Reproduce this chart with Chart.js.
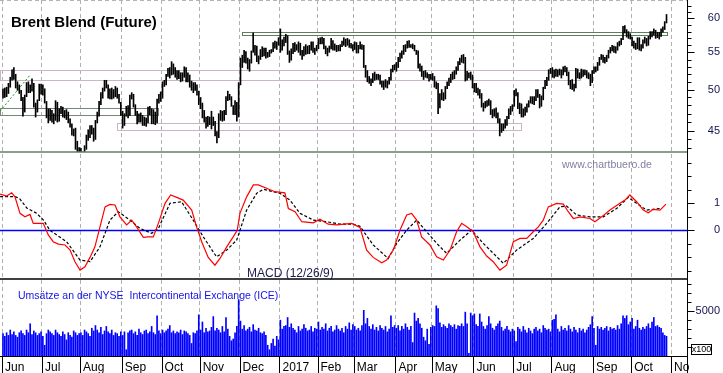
<!DOCTYPE html>
<html>
<head>
<meta charset="utf-8">
<title>Brent Blend (Future)</title>
<script src="https://cdn.jsdelivr.net/npm/chart.js@4.4.1/dist/chart.umd.min.js"></script>
<style>
  html, body { margin: 0; padding: 0; background: #fff; }
  canvas { display: block; }
</style>
</head>
<body>
<canvas id="chart" width="723" height="373"></canvas>
<script>
// trading-day index of the first session of each month (Jun 2016 .. Nov 2017)
const monthStarts = [0, 22, 43, 66, 88, 109, 131, 153, 174, 194, 217, 237, 260, 282, 303, 326, 347, 369];
const monthLabels = ["Jun", "Jul", "Aug", "Sep", "Oct", "Nov", "Dec", "2017", "Feb", "Mar", "Apr", "May", "Jun", "Jul", "Aug", "Sep", "Oct", "No"];

// daily low / high, one value per session
const priceLow = [
  48.9,49.0,49.1,49.5,50.3,51.2,51.3,50.2,49.9,49.5,48.6,46.7,47.2,49.1,49.6,49.6,49.8,47.8,46.6,47.2,48.6,49.4,
  49.3,48.3,46.5,45.9,46.2,46.0,45.8,46.2,46.0,46.1,47.0,46.6,46.5,46.3,45.9,45.4,44.5,44.4,42.9,42.5,41.9,
  41.8,41.5,41.6,42.9,43.9,44.2,44.6,43.8,44.0,45.9,46.7,48.1,48.9,49.8,50.2,48.9,48.8,48.8,48.9,49.1,48.9,48.3,46.8,
  45.3,45.6,46.7,46.5,46.8,48.8,47.8,46.8,45.8,46.0,46.0,45.6,45.6,45.5,45.9,46.9,45.8,45.8,45.7,45.9,48.3,48.5,
  48.9,50.4,50.6,51.7,51.5,51.9,52.0,51.6,51.3,51.4,51.0,51.1,51.6,51.0,51.0,50.3,49.9,49.6,49.9,49.3,48.1,
  47.6,46.5,46.0,45.3,45.5,45.7,45.2,45.6,44.4,43.6,44.2,46.2,46.1,46.2,46.9,48.6,48.7,47.9,46.9,46.9,46.1,46.6,
  50.6,52.9,53.6,53.5,52.7,52.4,53.5,55.0,54.6,53.7,53.4,54.0,54.4,54.5,54.2,54.3,54.4,54.9,55.1,55.6,55.4,56.0,
  55.0,55.3,55.9,56.4,54.7,53.6,53.9,54.8,55.1,55.3,55.0,54.6,54.0,54.5,54.7,54.8,54.8,55.3,55.0,54.7,55.2,
  55.5,56.2,56.2,55.5,54.8,54.5,55.0,55.5,55.3,55.3,55.1,55.2,55.2,55.8,56.0,55.8,56.0,55.7,55.6,55.2,
  55.4,54.9,54.9,55.5,55.4,52.9,51.6,51.0,50.8,50.5,50.9,51.2,51.3,51.3,50.7,50.3,50.0,50.3,50.2,50.7,51.2,52.3,52.6,
  52.4,52.9,53.7,54.2,54.7,55.1,55.6,55.7,55.7,55.5,55.2,54.7,52.8,52.4,51.7,51.3,51.6,51.5,51.1,51.3,
  51.2,50.3,50.1,47.0,47.7,48.7,48.6,48.8,50.1,50.5,50.9,51.3,51.4,52.0,52.5,53.3,53.6,53.5,51.1,51.2,51.5,51.3,50.2,
  49.7,49.6,49.3,48.9,47.8,47.3,47.7,47.9,48.0,46.9,46.5,46.7,46.5,45.9,44.4,44.8,45.0,45.3,45.6,46.4,46.9,47.3,
  47.9,49.2,47.6,47.0,46.6,46.6,46.8,47.2,47.8,48.3,48.2,48.1,48.6,49.0,47.7,47.9,48.7,50.1,50.5,51.2,52.1,
  51.6,51.5,51.7,51.7,51.9,51.5,51.9,52.3,51.8,50.6,50.1,50.0,49.8,50.2,51.5,51.4,51.5,51.7,51.9,51.5,51.4,50.5,50.9,
  52.1,52.3,52.5,53.2,54.0,53.6,53.5,53.7,54.2,54.9,55.2,55.0,54.9,55.3,55.9,56.1,56.8,57.8,57.2,57.0,56.9,
  55.9,55.6,55.4,55.5,55.3,55.2,55.6,56.3,55.9,56.0,56.9,57.2,57.5,57.0,57.1,56.9,57.3,57.9,58.3,59.3
];
const priceHigh = [
  50.1,50.2,50.3,50.8,51.6,52.6,52.9,52.0,51.0,50.6,49.9,49.0,49.3,50.9,51.0,50.6,51.4,50.8,48.3,48.7,50.7,50.7,
  50.6,50.1,48.5,47.6,47.6,47.4,47.0,48.6,48.4,47.6,47.9,47.8,47.4,47.5,47.2,46.4,45.8,45.2,45.3,43.8,43.1,
  43.0,42.6,43.3,44.5,45.1,45.6,45.6,45.3,46.2,47.2,48.5,49.6,50.2,51.2,51.2,50.6,50.1,50.2,50.0,50.4,50.2,49.4,48.4,
  47.3,47.0,47.9,48.0,49.3,49.6,49.4,48.1,47.3,47.0,47.1,46.8,46.6,46.5,47.8,47.9,47.6,47.5,47.2,48.8,49.4,49.7,
  51.0,51.2,52.0,52.8,52.9,53.7,53.4,52.9,52.5,52.5,52.2,52.2,53.0,52.9,52.2,51.9,51.1,50.9,50.9,50.6,49.8,
  49.0,48.3,47.4,46.6,46.7,46.6,47.3,46.6,46.1,44.9,47.0,47.4,47.3,47.4,49.1,49.8,49.4,49.1,48.0,48.6,48.4,50.9,
  54.2,54.6,55.3,55.1,54.2,54.0,55.2,57.8,56.0,55.9,54.5,55.4,55.8,55.6,55.6,55.0,55.3,55.4,56.4,56.6,56.5,57.1,
  58.4,56.8,57.2,57.6,57.4,55.2,55.5,56.3,56.4,56.1,56.5,56.3,55.3,55.8,56.1,55.9,56.0,56.5,56.5,55.6,56.0,
  57.0,57.1,57.2,57.0,55.9,55.6,55.9,57.0,56.7,56.2,56.0,56.0,56.1,56.6,57.1,56.9,57.0,56.8,56.3,56.1,
  56.5,56.4,56.0,56.5,56.1,56.0,53.2,52.5,51.7,51.4,52.1,52.3,52.0,52.0,51.9,51.1,51.1,51.3,51.1,51.6,52.7,53.2,53.3,
  53.6,54.3,54.9,55.2,56.0,56.1,56.6,56.7,56.1,56.2,56.0,55.3,55.2,53.4,53.1,52.4,52.5,52.2,52.0,52.0,
  52.1,51.7,51.0,50.8,49.5,50.0,49.6,50.4,51.0,51.5,52.0,52.3,52.5,53.0,53.7,54.2,54.6,54.7,54.3,52.4,52.2,52.3,51.9,
  50.8,50.8,50.2,50.0,49.5,48.3,48.5,48.6,48.8,48.6,47.5,47.6,47.7,47.1,46.4,45.8,45.8,46.3,46.7,47.6,47.9,48.1,
  49.9,50.1,49.6,48.3,48.2,47.6,47.8,48.2,48.6,49.1,49.1,49.1,50.0,50.0,49.4,49.2,50.3,51.2,51.6,52.6,52.8,
  52.9,52.6,52.7,52.6,52.7,52.6,53.0,53.1,52.9,52.3,51.2,51.3,50.7,52.8,52.7,52.2,52.7,52.6,52.6,52.5,52.2,52.0,52.5,
  53.0,53.0,53.6,54.3,54.7,54.6,54.3,54.6,55.3,55.7,56.0,55.9,55.8,56.4,56.6,57.0,58.8,58.9,58.3,58.0,57.7,
  57.2,56.6,56.3,57.1,57.1,56.1,56.8,57.2,57.0,57.3,58.0,58.0,58.4,58.2,57.9,57.9,58.4,58.7,59.5,60.6
];

// daily volume (x100 contracts)
const volume = [
  2500,2200,2600,2300,2900,2400,2700,2300,2100,2600,2800,2500,2300,2900,2600,3600,2400,2800,2600,2300,2500,2700,
  2200,1200,2500,2900,2700,2500,2300,2900,2600,2400,2200,2700,2400,1800,2600,2300,2100,2800,2600,2300,2500,
  2600,2300,2900,2700,2500,2200,3100,2800,3400,2900,2600,3200,2400,2800,3300,2700,2500,2900,2300,2600,2500,2200,2700,
  2300,2700,700,2600,2800,2900,2500,2700,2300,3000,2600,2400,2800,2900,2500,2700,3300,2600,2400,4500,2800,2500,
  2900,2600,2800,3000,3400,2600,2800,2500,2700,2600,2900,2400,2800,2700,2500,2300,1400,2600,2500,2800,4600,
  2900,3800,2600,3100,2700,2800,3200,4400,2800,3100,2900,2600,3300,2700,4300,3000,2200,1700,1900,2600,3300,6300,
  3900,3000,3400,2800,3000,3200,2700,3500,2900,2800,3100,2600,2500,2700,2300,1200,700,1400,1900,1100,2200,1800,
  4000,3000,3300,3400,4300,3200,3600,3100,2900,2600,3300,2800,3000,3500,3100,2800,2900,3300,2700,3100,3000,
  3800,2900,3200,3000,3600,2800,3100,3300,2700,2900,3400,3000,2800,3100,2600,3300,3000,3700,2900,3500,
  3300,2900,3100,2800,3400,5100,3600,4200,3300,3000,3500,2900,3200,2800,3400,3100,2900,3300,2700,3000,4500,3200,3400,
  3100,3400,2800,3300,3000,3600,3200,2900,3300,1500,4800,3900,4200,3600,3100,2100,1700,3000,1300,3200,
  3400,3300,5600,5300,3700,3200,3500,3300,3100,3600,3400,3200,3500,3000,3400,3300,3600,3300,4900,3600,300,4800,4500,
  4700,3500,3300,4700,3800,3300,3000,3400,4400,3600,3100,2900,3300,3600,3900,3200,2800,3000,3300,2900,2700,3000,
  2800,1600,3200,3000,2700,3300,2900,2600,3100,2800,2500,3000,3200,2800,3000,2600,3400,3100,2900,3000,2700,
  4000,4100,4600,3000,2700,3300,2900,3100,2800,3400,3000,2700,3200,2900,2600,3100,2800,3000,2600,2900,3200,3500,4400,
  3100,1200,3300,3000,3200,2900,3100,3300,2800,3200,3000,3100,2900,3400,3000,3600,4500,4200,4500,3500,3800,
  4200,3000,3300,4000,3100,2900,3200,3000,3300,3600,3100,3800,4300,3300,3400,3200,3100,2600,2300,2200
];

// MACD (12/26/9): day index and value
const macdDays = [-1.6,2,4.8,6.6,9.4,12.1,14.9,16.7,19.5,22.2,25,27.7,30.5,34.2,37,39.7,42.5,45.2,48,50.7,
  53.5,56.3,59,61.8,64.5,68.2,71,73.7,77.4,80.1,82.9,85.7,89.4,92.5,95.8,99.4,104.1,106.8,109.6,113.2,
  116.9,119.7,123.4,127,129.2,130.7,134.4,138.1,140.8,145.4,150,155.5,157.4,161.1,164.8,171.2,174.8,179.4,184.1,192.3,
  196.9,200.6,204.2,208.9,211.6,215.3,219,222.7,225.4,228.2,230.9,235.5,239.2,242.9,246.6,250.2,253,255.8,259.4,263.1,
  266.8,270.4,274.1,277.8,281.5,285.2,288.9,292.5,295.3,298,300.8,305.4,309.1,311.8,314.6,318.3,323.8,326.5,330.2,334.8,
  340.3,343.1,345.8,349.5,353.2,355.9,358.7,362.4,365.7];
const macdValues = [1.34,1.27,1.39,1.24,0.63,0.5,0.59,0.26,0.26,0.26,-0.17,-0.42,-0.51,-0.54,-0.73,-1.16,-1.47,-1.35,-1.0,-0.61,
  0.13,0.87,0.96,0.94,0.5,0.2,0.38,0.13,-0.26,-0.24,-0.24,0.26,1.0,1.31,1.22,1.12,0.75,0.13,-0.42,-1.0,
  -1.29,-1.04,-0.61,-0.24,0.0,0.63,1.24,1.68,1.68,1.56,1.43,1.39,0.81,0.69,0.32,0.28,0.41,0.23,0.2,0.26,
  0.11,-0.73,-1.0,-1.2,-1.1,-0.73,0.01,0.57,0.63,0.38,-0.24,-0.54,-0.98,-1.1,-0.73,-0.05,0.26,0.13,-0.05,-0.61,
  -0.95,-1.16,-1.47,-1.29,-0.42,-0.3,-0.3,-0.05,0.13,0.38,0.87,1.0,0.97,0.69,0.44,0.5,0.44,0.32,0.5,0.75,
  1.0,1.12,1.31,1.06,0.75,0.65,0.78,0.75,0.97];
const signalDays = [-1.6,6.6,9.1,13.1,18.6,22.3,25.9,35.1,42.5,48,53.5,59,63.6,70,75.6,82,85.7,92.1,98.5,104.9,
  110.5,117.8,123.4,128.9,134.4,139.9,143.6,152.8,158.3,163.8,171.2,178.5,185.9,193.2,196.9,204.2,212.5,217.2,222.7,228.2,
  233.7,239.2,244.7,252.1,258.5,264.9,276,283.3,292.5,299.9,307.2,310.9,316.4,323.8,331.1,338.5,344.9,349.5,355,362.4];
const signalValues = [1.25,1.25,1.18,0.83,0.63,0.38,0.0,-0.42,-1.1,-1.16,-0.61,0.38,0.69,0.38,0.07,-0.11,0.07,1.0,1.06,0.38,
  -0.24,-0.98,-0.73,-0.36,0.75,1.37,1.52,1.37,1.12,0.63,0.38,0.32,0.23,0.23,0.15,-0.54,-1.04,-0.48,0.01,0.38,
  -0.05,-0.48,-0.85,-0.36,0.01,-0.48,-1.22,-0.73,-0.3,0.26,0.87,0.9,0.57,0.5,0.5,0.81,1.22,1.0,0.75,0.81];

// drawn-in trend line and price zones
const trendDays = [-1.6, 15];
const trendPrices = [47.3, 51.9];
const zoneFrom = [131.8, -1.65, -1.65, 62.7];
const zoneTo = [366.2, 318.3, 85.5, 285.7];
const zoneLow = [57.49, 51.25, 46.85, 45.07];
const zoneHigh = [57.89, 52.58, 47.73, 45.85];

// axis ticks
const priceTicks = [43,44,45,46,47,48,49,50,51,52,53,54,55,56,57,58,59,60,61,62];
const priceLabels = [45, 50, 55, 60];
const macdTicks = [-1.5,-1,-0.5,0,0.5,1,1.5,2,2.5];
const macdLabels = [0, 1];
const volumeTicks = [1000,2000,3000,4000,5000,6000,7000,8000];
const volumeLabels = [5000];

const FONT = "Arial, 'Liberation Sans', sans-serif";
const ZONE_COLORS = ["#5e7e5e", "#c8b6c8", "#788878", "#c8b6c8"];
const AXIS_TEXT = "#141450";

function yAxis(ticks, labels, padding) {
  return {
    position: "right",
    stack: "panes",
    bounds: "data",
    afterBuildTicks: s => { s.ticks = ticks.map(v => ({ value: v })); },
    afterFit: s => { s.width = 33; s.paddingTop = 0; s.paddingBottom = 0; },
    ticks: {
      autoSkip: false,
      crossAlign: "far",
      padding: padding,
      color: AXIS_TEXT,
      font: { family: FONT, size: 11 },
      callback: v => labels.includes(v) ? String(v) : ""
    },
    grid: { display: false, drawTicks: false },
    border: { display: false }
  };
}

const panelDecor = {
  id: "panelDecor",
  beforeDatasetsDraw(chart) {
    const { ctx, chartArea: a } = chart;
    const { x, yP, yM } = chart.scales;
    ctx.save();
    ctx.lineWidth = 1;
    ctx.strokeStyle = "#b8b0b8";
    ctx.setLineDash([4, 3]);
    ctx.beginPath(); ctx.moveTo(a.left, 0.5); ctx.lineTo(a.right, 0.5); ctx.stroke();
    ctx.setLineDash([]);
    zoneLow.forEach((lo, k) => {
      const x1 = Math.round(x.getPixelForValue(zoneFrom[k])) + 0.5;
      const x2 = Math.round(x.getPixelForValue(zoneTo[k])) + 0.5;
      const y1 = Math.round(yP.getPixelForValue(zoneHigh[k])) + 0.5;
      const y2 = Math.round(yP.getPixelForValue(lo)) + 0.5;
      ctx.strokeStyle = ZONE_COLORS[k];
      ctx.strokeRect(x1, y1, x2 - x1, y2 - y1);
    });
    const y0 = Math.round(yM.getPixelForValue(0)) + 0.5;
    ctx.strokeStyle = "#0000ff";
    ctx.lineWidth = 1.5;
    ctx.beginPath(); ctx.moveTo(a.left, y0); ctx.lineTo(a.right, y0); ctx.stroke();
    ctx.restore();
  },
  afterDraw(chart) {
    const { ctx, chartArea: a, height } = chart;
    const { x, yP, yM, yV } = chart.scales;
    ctx.save();

    // panel separators
    ctx.lineWidth = 1.5;
    ctx.strokeStyle = "#5f805f";
    ctx.beginPath(); ctx.moveTo(a.left, Math.round(yP.bottom)); ctx.lineTo(a.right, Math.round(yP.bottom)); ctx.stroke();
    ctx.strokeStyle = "#000";
    ctx.beginPath(); ctx.moveTo(a.left, Math.round(yM.bottom)); ctx.lineTo(a.right, Math.round(yM.bottom)); ctx.stroke();

    // x axis line and month ticks
    ctx.lineWidth = 1;
    const yb = Math.round(a.bottom) + 0.5;
    ctx.beginPath(); ctx.moveTo(a.left, yb); ctx.lineTo(a.right, yb); ctx.stroke();
    x.ticks.forEach(t => {
      const px = Math.round(x.getPixelForValue(t.value)) + 0.5;
      ctx.beginPath(); ctx.moveTo(px, yb); ctx.lineTo(px, height); ctx.stroke();
    });

    // right axis line and tick marks
    const ax = Math.round(yP.left) + 0.5;
    ctx.beginPath(); ctx.moveTo(ax, 0); ctx.lineTo(ax, height); ctx.stroke();
    [yP, yM, yV].forEach(s => s.ticks.forEach(t => {
      const py = Math.round(s.getPixelForValue(t.value)) + 0.5;
      ctx.beginPath(); ctx.moveTo(ax, py); ctx.lineTo(ax + (t.label ? 7 : 4), py); ctx.stroke();
    }));

    // x100 box
    const bx = Math.round(ax) + 3, by = Math.round(yV.bottom) - 12;
    ctx.strokeRect(bx + 0.5, by + 0.5, 20, 10);
    ctx.fillStyle = "#000";
    ctx.font = `9px ${FONT}`;
    ctx.textAlign = "center";
    ctx.textBaseline = "middle";
    ctx.fillText("x100", bx + 10.5, by + 6);

    // texts
    ctx.textAlign = "left";
    ctx.textBaseline = "alphabetic";
    ctx.fillStyle = "#000";
    ctx.font = `bold 15px ${FONT}`;
    ctx.fillText("Brent Blend (Future)", a.left + 11, a.top + 27);

    ctx.fillStyle = "#8080a0";
    ctx.font = `10.5px ${FONT}`;
    ctx.fillText("www.chartbuero.de", a.left + 562, yP.bottom + 16);

    ctx.fillStyle = "#202050";
    ctx.font = `12px ${FONT}`;
    ctx.fillText("MACD (12/26/9)", a.left + 247, yM.bottom - 2.5);

    ctx.fillStyle = "#1414e6";
    ctx.font = `10.5px ${FONT}`;
    ctx.fillText("Umsätze an der NYSE  Intercontinental Exchange (ICE)", a.left + 18, yV.top + 19.5);

    ctx.restore();
  }
};

new Chart(document.getElementById("chart"), {
  type: "bar",
  data: {
    datasets: [
      {
        type: "bar",
        data: priceLow.map((lo, i) => ({ x: i, y: [lo, priceHigh[i]] })),
        yAxisID: "yP",
        backgroundColor: "#000",
        barThickness: 1,
        grouped: false
      },
      {
        type: "line",
        data: trendDays.map((d, i) => ({ x: d, y: trendPrices[i] })),
        yAxisID: "yP",
        borderColor: "#1f9a1f",
        borderWidth: 1,
        borderDash: [2, 2],
        pointRadius: 0
      },
      {
        type: "line",
        data: macdDays.map((d, i) => ({ x: d, y: macdValues[i] })),
        yAxisID: "yM",
        borderColor: "#ff0000",
        borderWidth: 1.2,
        pointRadius: 0
      },
      {
        type: "line",
        data: signalDays.map((d, i) => ({ x: d, y: signalValues[i] })),
        yAxisID: "yM",
        borderColor: "#000",
        borderWidth: 1.2,
        borderDash: [3, 2],
        pointRadius: 0
      },
      {
        type: "bar",
        data: volume.map((v, i) => ({ x: i, y: v })),
        yAxisID: "yV",
        backgroundColor: "#0000ff",
        barThickness: 1,
        grouped: false
      }
    ]
  },
  options: {
    responsive: false,
    devicePixelRatio: 1,
    animation: false,
    layout: { padding: { left: 0, top: 0, right: 3, bottom: 0 } },
    plugins: { legend: { display: false }, tooltip: { enabled: false } },
    scales: {
      x: {
        type: "linear",
        min: -1.65,
        max: 377.3,
        bounds: "data",
        offset: false,
        afterBuildTicks: s => { s.ticks = monthStarts.map(v => ({ value: v - 0.5 })); },
        afterFit: s => { s.height = 17; s.paddingLeft = 0; s.paddingRight = 0; },
        ticks: {
          autoSkip: false,
          maxRotation: 0,
          minRotation: 0,
          align: "start",
          labelOffset: 3,
          padding: 4,
          color: "#000",
          font: { family: FONT, size: 12 },
          callback: (v, i) => monthLabels[i]
        },
        grid: { color: "#b0b0b0", offset: false, drawTicks: false },
        border: { display: false, dash: [4, 3] }
      },
      yP: Object.assign(yAxis(priceTicks, priceLabels, 21), {
        type: "logarithmic", min: 42.61, max: 62.89, stackWeight: 152
      }),
      yM: Object.assign(yAxis(macdTicks, macdLabels, 27), {
        type: "linear", min: -1.8, max: 2.9, stackWeight: 127
      }),
      yV: Object.assign(yAxis(volumeTicks, volumeLabels, 8), {
        type: "linear", min: 0, max: 8600, stackWeight: 77
      })
    }
  },
  plugins: [panelDecor]
});
</script>
</body>
</html>
